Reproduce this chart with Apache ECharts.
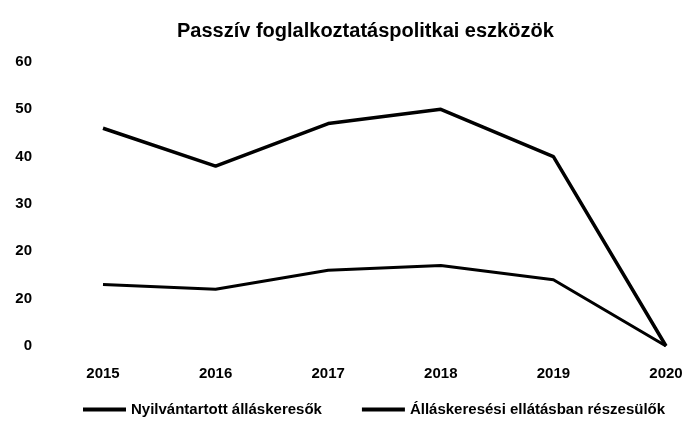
<!DOCTYPE html>
<html>
<head>
<meta charset="utf-8">
<script src="https://cdn.jsdelivr.net/npm/echarts@6/dist/echarts.min.js"></script>
<style>
	html, body { margin: 0; padding: 0; background: #fff; }
	#chart { width: 688px; height: 423px; }
</style>
</head>
<body>
<div id="chart"></div>
<script>
// kategóriák (évek)
var years = ['2015', '2016', '2017', '2018', '2019', '2020']
// sorozatok
var nyilvantartott = [46, 38, 47, 50, 40, 0]
var ellatott = [13, 12, 16, 17, 14, 0]
// y tengely feliratai, ahogy a képen (a 10 helyén is 20 áll)
var yTickLabels = ['0', '20', '20', '30', '40', '50', '60']

var font = '"Liberation Sans", Arial, sans-serif'
var chart = echarts.init(document.getElementById('chart'))

chart.setOption({
	animation: false,
	color: ['#000000', '#000000'],
	title: {
		text: 'Passzív foglalkoztatáspolitkai eszközök',
		left: 172,
		top: 16,
		textStyle: {
			fontFamily: font,
			fontWeight: 'bold',
			fontSize: 20,
			color: '#000'
		}
	},
	legend: {
		bottom: 1,
		left: 78,
		width: 600,
		icon: 'rect',
		itemWidth: 43,
		itemHeight: 4,
		itemGap: 40,
		textStyle: {
			fontFamily: font,
			fontWeight: 'bold',
			fontSize: 15,
			color: '#000'
		},
		data: ['Nyilvántartott álláskeresők', 'Álláskeresési ellátásban részesülők']
	},
	grid: {
		left: 103,
		right: 22,
		top: 62,
		bottom: 77
	},
	xAxis: {
		type: 'category',
		boundaryGap: false,
		data: years,
		axisLine: { show: false },
		axisTick: { show: false },
		axisLabel: {
			margin: 20,
			fontFamily: font,
			fontWeight: 'bold',
			fontSize: 15,
			color: '#000'
		}
	},
	yAxis: {
		type: 'value',
		min: 0,
		max: 60,
		interval: 10,
		axisLine: { show: false },
		axisTick: { show: false },
		splitLine: { show: false },
		axisLabel: {
			margin: 71,
			fontFamily: font,
			fontWeight: 'bold',
			fontSize: 15,
			color: '#000',
			formatter: function(val) {
				return yTickLabels[Math.round(val / 10)]
			}
		}
	},
	series: [
		{
			name: 'Nyilvántartott álláskeresők',
			type: 'line',
			data: nyilvantartott,
			symbol: 'none',
			lineStyle: { width: 3.5, color: '#000' }
		},
		{
			name: 'Álláskeresési ellátásban részesülők',
			type: 'line',
			data: ellatott,
			symbol: 'none',
			lineStyle: { width: 3, color: '#000' }
		}
	]
})
</script>
</body>
</html>
